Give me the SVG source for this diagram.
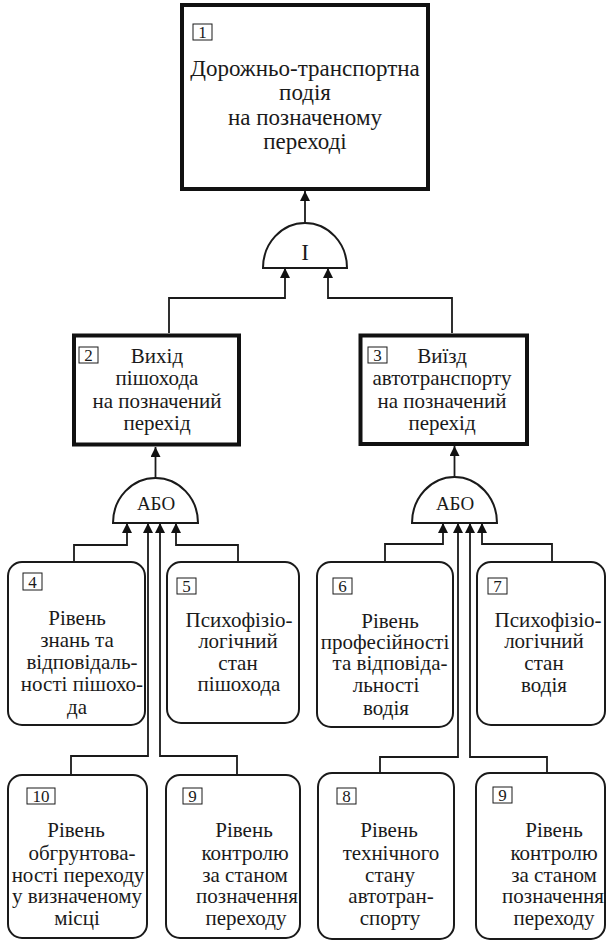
<svg xmlns="http://www.w3.org/2000/svg" width="608" height="942" viewBox="0 0 608 942">
<style>
text{font-family:"Liberation Serif","DejaVu Serif Condensed","DejaVu Serif",serif;fill:#1a1a1a;text-anchor:middle}
.t{font-size:21px}
.tt{font-size:23px}
.n{font-size:17px;text-anchor:middle}
.nb{fill:#fff;stroke:#1a1a1a;stroke-width:1}
.main{fill:#fff;stroke:#111;stroke-width:4}
.leaf{fill:#fff;stroke:#1a1a1a;stroke-width:2}
.gate{fill:#fff;stroke:#1a1a1a;stroke-width:2}
.c{fill:none;stroke:#1a1a1a;stroke-width:1.8;marker-end:url(#ah)}
</style>
<defs>
<marker id="ah" viewBox="0 0 10 12" refX="10" refY="5" markerWidth="10" markerHeight="12" markerUnits="userSpaceOnUse" orient="auto">
<path d="M0,0 L10,5 L0,10 Z" fill="#111"/>
</marker>
</defs>
<rect width="608" height="942" fill="#fff"/>
<g id="connectors">
<path class="c" d="M305,223 V191"/>
<path class="c" d="M169,333 V298 H285 V268"/>
<path class="c" d="M452,333 V298 H328 V268"/>
<path class="c" d="M155.5,478 V447"/>
<path class="c" d="M454.5,477 V446"/>
<path class="c" d="M74,562 V545 H127 V523"/>
<path class="c" d="M238,562 V545 H176 V523"/>
<path class="c" d="M71,775 V756 H148 V523"/>
<path class="c" d="M237,775 V756 H160 V523"/>
<path class="c" d="M385,562 V544 H443 V523"/>
<path class="c" d="M552,562 V544 H482 V523"/>
<path class="c" d="M380,773 V757 H458 V523"/>
<path class="c" d="M547,773 V757 H470 V523"/>
</g>
<g id="node1">
<rect class="main" x="182" y="5" width="246" height="184"/>
<rect class="nb" x="193" y="24" width="19" height="16"/>
<text class="n" x="202.5" y="38">1</text>
<text class="tt" x="305" y="76">Дорожньо-транспортна</text>
<text class="tt" x="305" y="100">подія</text>
<text class="tt" x="305" y="125">на позначеному</text>
<text class="tt" x="305" y="149">переході</text>
</g>
<g id="gateAnd">
<path class="gate" d="M263,268 A42,45 0 0 1 347,268 Z"/>
<text class="tt" x="305" y="260">І</text>
</g>
<g id="node2">
<rect class="main" x="74" y="335.5" width="165" height="109"/>
<rect class="nb" x="79" y="347" width="19" height="16"/>
<text class="n" x="88.5" y="361">2</text>
<text class="t" x="157" y="363">Вихід</text>
<text class="t" x="157" y="385">пішохода</text>
<text class="t" x="157" y="408">на позначений</text>
<text class="t" x="157" y="430">перехід</text>
</g>
<g id="node3">
<rect class="main" x="360.5" y="335.5" width="166.5" height="108.5"/>
<rect class="nb" x="368" y="347" width="19" height="16"/>
<text class="n" x="377.5" y="361">3</text>
<text class="t" x="442" y="363">Виїзд</text>
<text class="t" x="442" y="385">автотранспорту</text>
<text class="t" x="442" y="408">на позначений</text>
<text class="t" x="442" y="430">перехід</text>
</g>
<g id="gateOr1">
<path class="gate" d="M113,523 A42.5,45 0 0 1 198,523 Z"/>
<text class="t" x="156" y="510" style="font-size:19px">АБО</text>
</g>
<g id="gateOr2">
<path class="gate" d="M412,523 A42.5,46 0 0 1 497,523 Z"/>
<text class="t" x="455" y="510" style="font-size:19px">АБО</text>
</g>
<g id="node4">
<rect class="leaf" x="8" y="562" width="137" height="163" rx="14"/>
<rect class="nb" x="23" y="573" width="19" height="17"/>
<text class="n" x="32.5" y="588">4</text>
<text class="t" x="77" y="625">Рівень</text>
<text class="t" x="77" y="647">знань та</text>
<text class="t" x="82" y="669">відповідаль-</text>
<text class="t" x="82" y="691">ності пішохо-</text>
<text class="t" x="77" y="714">да</text>
</g>
<g id="node5">
<rect class="leaf" x="167" y="562" width="132" height="161" rx="14"/>
<rect class="nb" x="177" y="578" width="19" height="16"/>
<text class="n" x="186.5" y="592">5</text>
<text class="t" x="239" y="627">Психофізіо-</text>
<text class="t" x="238" y="648">логічний</text>
<text class="t" x="238" y="670">стан</text>
<text class="t" x="239" y="691">пішохода</text>
</g>
<g id="node6">
<rect class="leaf" x="317" y="562" width="136" height="165" rx="14"/>
<rect class="nb" x="333" y="578" width="19" height="16"/>
<text class="n" x="342.5" y="592">6</text>
<text class="t" x="390" y="628">Рівень</text>
<text class="t" x="385" y="649">професійності</text>
<text class="t" x="390" y="670">та відповіда-</text>
<text class="t" x="386" y="692">льності</text>
<text class="t" x="386" y="715">водія</text>
</g>
<g id="node7">
<rect class="leaf" x="477" y="562" width="128" height="163" rx="14"/>
<rect class="nb" x="488" y="578" width="19" height="16"/>
<text class="n" x="497.5" y="592">7</text>
<text class="t" x="548" y="627">Психофізіо-</text>
<text class="t" x="544" y="648">логічний</text>
<text class="t" x="544" y="670">стан</text>
<text class="t" x="544" y="692">водія</text>
</g>
<g id="node10">
<rect class="leaf" x="8" y="775" width="139" height="163" rx="14"/>
<rect class="nb" x="27" y="788" width="28" height="16"/>
<text class="n" x="41" y="802">10</text>
<text class="t" x="76" y="837">Рівень</text>
<text class="t" x="82" y="860">обгрунтова-</text>
<text class="t" x="78" y="882">ності переходу</text>
<text class="t" x="77" y="903">у визначеному</text>
<text class="t" x="77" y="925">місці</text>
</g>
<g id="node9a">
<rect class="leaf" x="166" y="775" width="134" height="163" rx="14"/>
<rect class="nb" x="183" y="788" width="19" height="16"/>
<text class="n" x="192.5" y="802">9</text>
<text class="t" x="244" y="837">Рівень</text>
<text class="t" x="245" y="860">контролю</text>
<text class="t" x="245" y="882">за станом</text>
<text class="t" x="247" y="903">позначення</text>
<text class="t" x="246" y="925">переходу</text>
</g>
<g id="node8">
<rect class="leaf" x="318" y="773" width="136" height="166" rx="14"/>
<rect class="nb" x="337" y="788" width="19" height="16"/>
<text class="n" x="346.5" y="802">8</text>
<text class="t" x="389" y="837">Рівень</text>
<text class="t" x="391" y="860">технічного</text>
<text class="t" x="390" y="882">стану</text>
<text class="t" x="391" y="903">автотран-</text>
<text class="t" x="390" y="925">спорту</text>
</g>
<g id="node9b">
<rect class="leaf" x="476" y="773" width="129" height="166" rx="14"/>
<rect class="nb" x="493" y="787" width="19" height="16"/>
<text class="n" x="502.5" y="801">9</text>
<text class="t" x="554" y="837">Рівень</text>
<text class="t" x="554" y="860">контролю</text>
<text class="t" x="554" y="882">за станом</text>
<text class="t" x="553" y="903">позначення</text>
<text class="t" x="554" y="925">переходу</text>
</g>
</svg>
